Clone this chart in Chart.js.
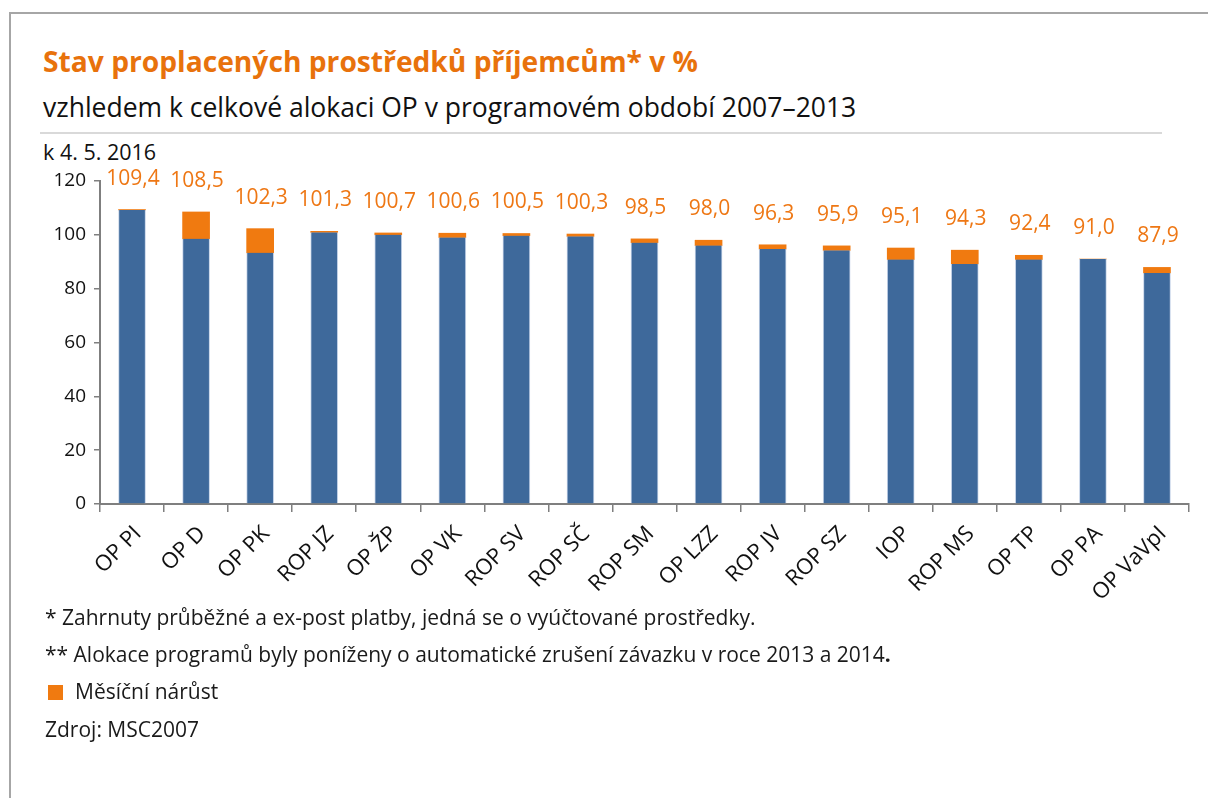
<!DOCTYPE html>
<html lang="cs">
<head>
<meta charset="utf-8">
<script src="https://cdn.jsdelivr.net/npm/chart.js@4.4.0/dist/chart.umd.min.js"></script>
<style>
  html, body { margin: 0; padding: 0; background: #fff; }
  body { width: 1208px; height: 798px; position: relative; overflow: hidden; font-family: "Open Sans", "Noto Sans", sans-serif; color: #111; }
  .frame { position: absolute; left: 9px; top: 12px; width: 1300px; height: 900px; border-left: 2px solid #a6a6a6; border-top: 2px solid #a6a6a6; }
  .txt { position: absolute; white-space: nowrap; line-height: 1; }
  #title { left: 43px; top: 47px; font-size: 28.2px; font-weight: 700; color: #e8720c; }
  #subtitle { left: 43px; top: 94px; font-size: 26.5px; color: #111; }
  .rule { position: absolute; left: 40px; top: 132px; width: 1122px; height: 2px; background: #d9d9d9; }
  #date { left: 43px; top: 141px; font-size: 21.5px; }
  .note { font-size: 21px; color: #1a1a1a; }
  #n1 { left: 45px; top: 607px; }
  #n2 { left: 45px; top: 644px; }
  #leg { left: 75px; top: 681px; }
  #src { left: 45px; top: 719px; }
  .sw { position: absolute; left: 48px; top: 685px; width: 15px; height: 15px; background: #f07a10; }
  #wrap { position: absolute; left: 0; top: 0; width: 1208px; height: 798px; }
</style>
</head>
<body>
<div class="frame"></div>
<div class="txt" id="title">Stav proplacených prostředků příjemcům* v %</div>
<div class="txt" id="subtitle">vzhledem k celkové alokaci OP v programovém období 2007–2013</div>
<div class="rule"></div>
<div class="txt" id="date">k 4. 5. 2016</div>
<div id="wrap"><canvas id="chart" width="1208" height="798"></canvas></div>
<div class="txt note" id="n1">* Zahrnuty průběžné a ex-post platby, jedná se o vyúčtované prostředky.</div>
<div class="txt note" id="n2">** Alokace programů byly poníženy o automatické zrušení závazku v roce 2013 a 2014<b>.</b></div>
<div class="sw"></div>
<div class="txt note" id="leg">Měsíční nárůst</div>
<div class="txt note" id="src">Zdroj: MSC2007</div>
<script>
const categories = ["OP PI", "OP D", "OP PK", "ROP JZ", "OP ŽP", "OP VK", "ROP SV", "ROP SČ", "ROP SM", "OP LZZ", "ROP JV", "ROP SZ", "IOP", "ROP MS", "OP TP", "OP PA", "OP VaVpI"];
const baseValues = [109.2, 98.5, 93.3, 100.9, 100.0, 99.0, 99.7, 99.4, 97.1, 96.0, 94.7, 94.2, 90.8, 89.2, 90.8, 91.0, 85.8];
const monthlyGrowth = [0.2, 10.0, 9.0, 0.4, 0.7, 1.6, 0.8, 0.9, 1.4, 2.0, 1.6, 1.7, 4.3, 5.1, 1.6, 0.0, 2.1];
const totals = [109.4, 108.5, 102.3, 101.3, 100.7, 100.6, 100.5, 100.3, 98.5, 98.0, 96.3, 95.9, 95.1, 94.3, 92.4, 91.0, 87.9];
const yTicks = [0, 20, 40, 60, 80, 100, 120];

const BLUE = "#3e699b";
const ORANGE = "#f07a10";
const FONT = "'Open Sans', 'Noto Sans', sans-serif";

// popisky celkových hodnot nad sloupci
const totalLabels = {
  id: "totalLabels",
  afterDatasetsDraw(chart) {
    const { ctx, scales } = chart;
    ctx.save();
    ctx.font = "21px " + FONT;
    ctx.fillStyle = "#ee7714";
    ctx.textAlign = "center";
    ctx.textBaseline = "middle";
    totals.forEach((v, i) => {
      const x = scales.x.getPixelForValue(i) + 1;
      const y = scales.y.getPixelForValue(v) - 31;
      ctx.fillText(v.toFixed(1).replace(".", ","), x, y);
    });
    ctx.restore();
  }
};

new Chart(document.getElementById("chart").getContext("2d"), {
  type: "bar",
  data: {
    labels: categories,
    datasets: [
      { label: "Proplaceno", data: baseValues, backgroundColor: BLUE, borderColor: "rgba(190,205,228,0.9)", borderWidth: { left: 1, right: 1 }, borderSkipped: false, barThickness: 27 },
      { label: "Měsíční nárůst", data: monthlyGrowth, backgroundColor: ORANGE, borderWidth: 0, barThickness: 27 }
    ]
  },
  plugins: [totalLabels],
  options: {
    responsive: false,
    animation: false,
    layout: { padding: { left: 40, right: 19, top: 181, bottom: 160 } },
    plugins: { legend: { display: false }, tooltip: { enabled: false } },
    scales: {
      x: {
        stacked: true,
        grid: { display: true, drawOnChartArea: false, drawTicks: true, tickLength: 8, color: "#7f7f7f", lineWidth: 1.5 },
        border: { color: "#7f7f7f", width: 2 },
        ticks: { color: "#111", font: { size: 22, family: FONT }, minRotation: 45, maxRotation: 45, padding: 9, labelOffset: 6, autoSkip: false },
        afterFit: (s) => { s.height = 134; }
      },
      y: {
        stacked: true,
        min: 0,
        max: 120,
        afterBuildTicks: (s) => { s.ticks = yTicks.map((v) => ({ value: v })); },
        grid: { display: true, drawOnChartArea: false, drawTicks: true, tickLength: 6, color: "#7f7f7f", lineWidth: 1.5 },
        border: { color: "#7f7f7f", width: 2 },
        ticks: { color: "#111", font: { size: 19, family: FONT }, padding: 8 },
        afterFit: (s) => { s.width = 60; }
      }
    }
  }
});
</script>
</body>
</html>
